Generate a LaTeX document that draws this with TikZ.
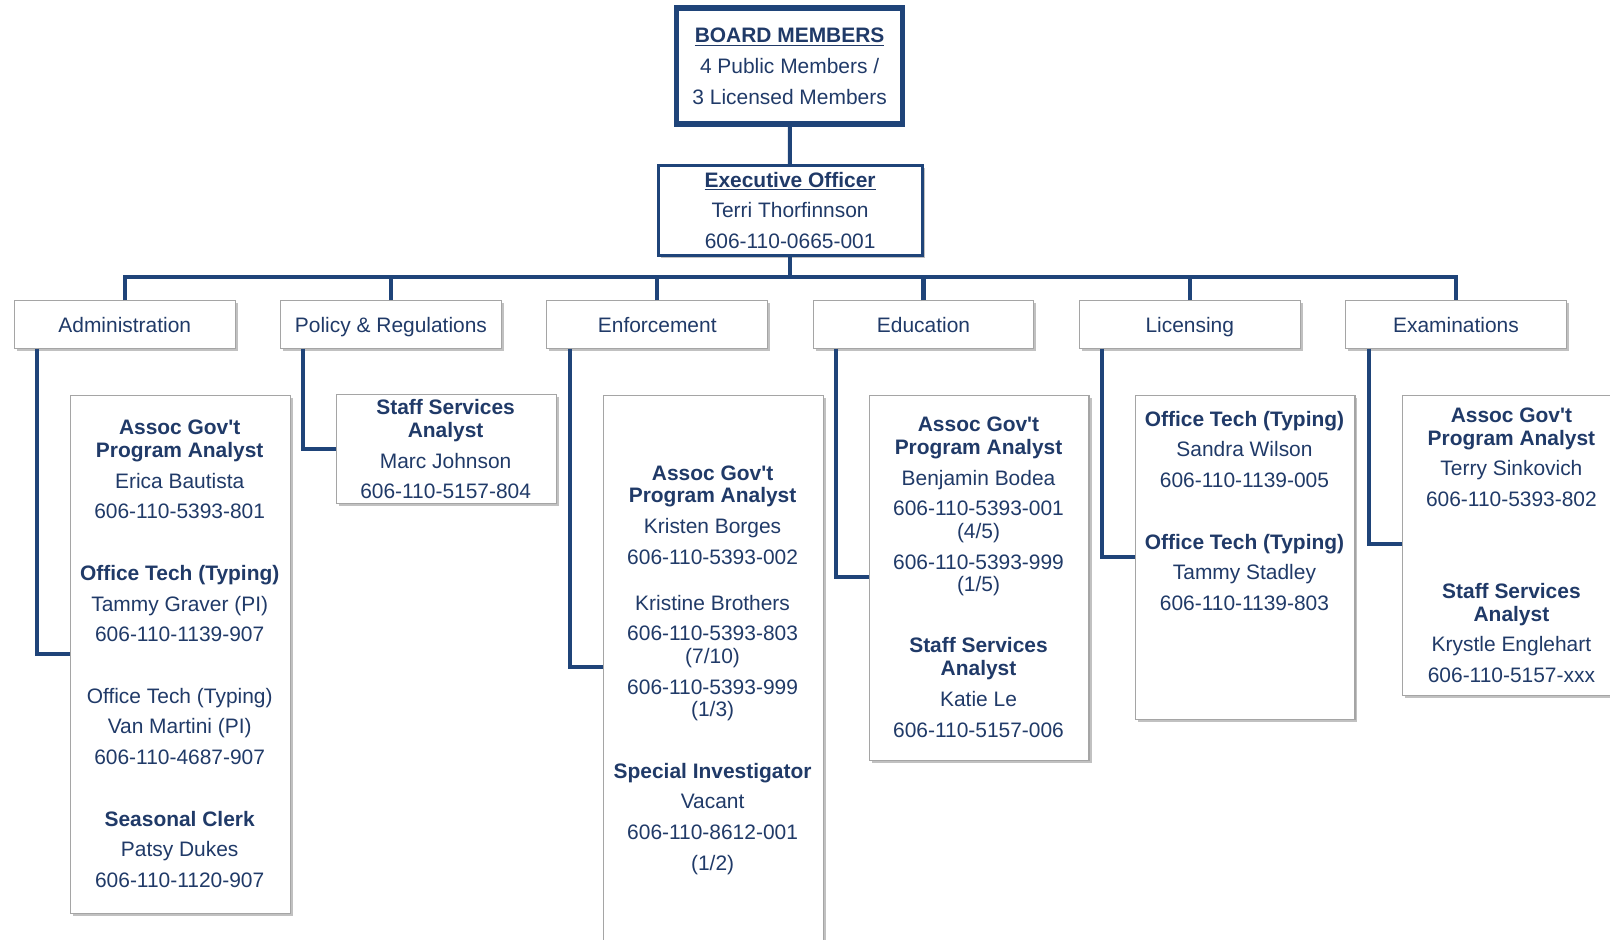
\documentclass[tikz,border=0pt]{standalone}
\usepackage{fontspec}
\setmainfont{Liberation Sans}
\usetikzlibrary{shadows}
\definecolor{navy}{RGB}{31,68,121}
\definecolor{ink}{RGB}{32,58,104}
\definecolor{rim}{RGB}{165,165,165}
\newcommand{\gvt}{Gov\textquotesingle t}
\tikzset{
  chart/.style={font=\fontsize{14.5}{15.6}\selectfont, text=ink, align=center},
  link/.style={draw=navy, line width=2.8pt, line join=miter},
  shade/.style={drop shadow={shadow xshift=0.06cm, shadow yshift=-0.06cm, opacity=0.35, fill=black!70}},
  boardbox/.style={chart, draw=navy, line width=3.9pt, fill=white, minimum width=5.5cm, minimum height=2.825cm, shade},
  headbox/.style={chart, draw=navy, line width=2.1pt, fill=white, minimum width=6.425cm, minimum height=2.2cm, shade},
  deptbox/.style={chart, draw=rim, line width=0.8pt, fill=white, minimum width=5.375cm, minimum height=1.15cm,
    text height=1.05em, text depth=0em, shade},
  staffbox/.style={draw=rim, line width=0.8pt, fill=white, minimum width=5.35cm, anchor=north west, shade},
  stafftext/.style={chart, anchor=north, inner sep=0pt}
}
\begin{document}
\begin{tikzpicture}[x=0.025cm, y=-0.025cm]
  \useasboundingbox (0,0) rectangle (1568,915);

  % top of the chart
  \node[boardbox] (board) at (769,64.5) {{\bfseries\underline{BOARD MEMBERS}}\\[5.7pt]
    4 Public Members /\\[5.7pt] 3 Licensed Members};
  \node[headbox] (exec) at (769.5,205) {{\bfseries\underline{Executive Officer}}\\[5.7pt]
    Terri Thorfinnson\\[5.7pt] 606-110-0665-001};

  % units
  \node[deptbox] (adm) at (121.5,316) {Administration};
  \node[deptbox] (pol) at (380.8,316) {Policy \& Regulations};
  \node[deptbox] (enf) at (640.1,316) {Enforcement};
  \node[deptbox] (edu) at (899.4,316) {Education};
  \node[deptbox] (lic) at (1158.7,316) {Licensing};
  \node[deptbox] (exa) at (1418,316) {Examinations};

  % staff
  \node[staffbox, minimum height=12.6cm] (admstaff) at (68,385) {};
  \node[staffbox, minimum height=2.65cm] (polstaff) at (327,384) {};
  \node[staffbox, minimum height=15cm] (enfstaff) at (587,385) {};
  \node[staffbox, minimum height=8.875cm] (edustaff) at (846,385) {};
  \node[staffbox, minimum height=7.875cm] (licstaff) at (1105,385) {};
  \node[staffbox, minimum height=7.3cm] (exastaff) at (1365,385) {};

  \node[stafftext] (admtext) at (175,409) {\bfseries Assoc \gvt\\ \bfseries Program Analyst\\[5.7pt]
    Erica Bautista\\[5.7pt] 606-110-5393-801\\[26.9pt]
    \bfseries Office Tech (Typing)\\[5.7pt] Tammy Graver (PI)\\[5.7pt] 606-110-1139-907\\[26.9pt]
    Office Tech (Typing)\\[5.7pt] Van Martini (PI)\\[5.7pt] 606-110-4687-907\\[26.9pt]
    \bfseries Seasonal Clerk\\[5.7pt] Patsy Dukes\\[5.7pt] 606-110-1120-907};
  \node[stafftext] (poltext) at (434,389) {\bfseries Staff Services\\ \bfseries Analyst\\[5.7pt]
    Marc Johnson\\[5.7pt] 606-110-5157-804};
  \node[stafftext] (enftext) at (694,453) {\bfseries Assoc \gvt\\ \bfseries Program Analyst\\[5.7pt]
    Kristen Borges\\[5.7pt] 606-110-5393-002\\[16.3pt]
    Kristine Brothers\\[5.7pt] 606-110-5393-803\\ (7/10)\\[5.7pt] 606-110-5393-999\\ (1/3)\\[26.9pt]
    \bfseries Special Investigator\\[5.7pt] Vacant\\[5.7pt] 606-110-8612-001\\[5.7pt] (1/2)};
  \node[stafftext] (edutext) at (953,406) {\bfseries Assoc \gvt\\ \bfseries Program Analyst\\[5.7pt]
    Benjamin Bodea\\[5.7pt] 606-110-5393-001\\ (4/5)\\[5.7pt] 606-110-5393-999\\ (1/5)\\[26.9pt]
    \bfseries Staff Services\\ \bfseries Analyst\\[5.7pt] Katie Le\\[5.7pt] 606-110-5157-006};
  \node[stafftext] (lictext) at (1212,400) {\bfseries Office Tech (Typing)\\[5.7pt]
    Sandra Wilson\\[5.7pt] 606-110-1139-005\\[26.9pt]
    \bfseries Office Tech (Typing)\\[5.7pt] Tammy Stadley\\[5.7pt] 606-110-1139-803};
  \node[stafftext] (exatext) at (1472,397) {\bfseries Assoc \gvt\\ \bfseries Program Analyst\\[5.7pt]
    Terry Sinkovich\\[5.7pt] 606-110-5393-802\\[48.2pt]
    \bfseries Staff Services\\ \bfseries Analyst\\[5.7pt] Krystle Englehart\\[5.7pt] 606-110-5157-xxx};

  % connectors
  \coordinate (bus) at (769.5,270);
  \draw[link] (board) -- (exec);
  \draw[link] (exec) -- (exec |- bus);
  \draw[link] (adm) -- (adm |- bus) -- (exa |- bus) -- (exa);
  \draw[link] (pol) -- (pol |- bus);
  \draw[link] (enf) -- (enf |- bus);
  \draw[link] (edu) -- (edu |- bus);
  \draw[link] (lic) -- (lic |- bus);

  \coordinate (admj) at (36,637);
  \coordinate (polj) at (295,437);
  \coordinate (enfj) at (555,650);
  \coordinate (eduj) at (814,562);
  \coordinate (licj) at (1073,542);
  \coordinate (exaj) at (1333,530);
  \draw[link] (adm.south -| admj) |- (admstaff.west |- admj);
  \draw[link] (pol.south -| polj) |- (polstaff.west |- polj);
  \draw[link] (enf.south -| enfj) |- (enfstaff.west |- enfj);
  \draw[link] (edu.south -| eduj) |- (edustaff.west |- eduj);
  \draw[link] (lic.south -| licj) |- (licstaff.west |- licj);
  \draw[link] (exa.south -| exaj) |- (exastaff.west |- exaj);
\end{tikzpicture}
\end{document}
